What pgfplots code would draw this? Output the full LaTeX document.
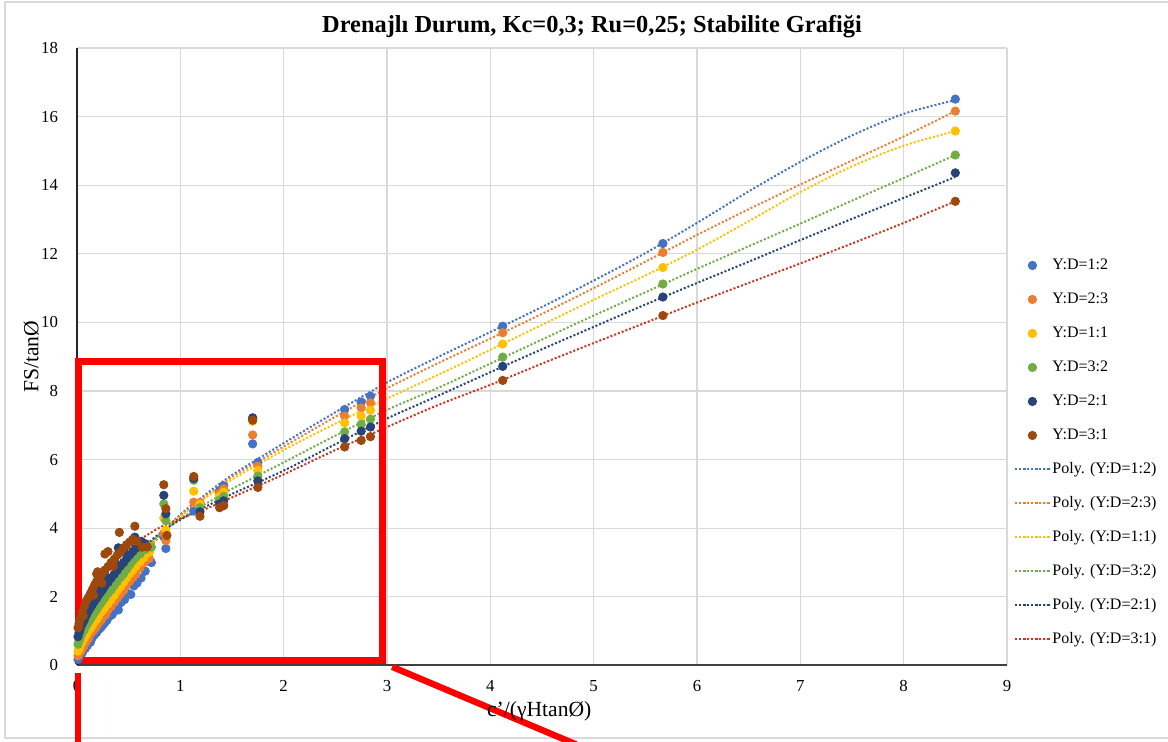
\documentclass[border=0pt]{standalone}
\usepackage{fontspec}
\setmainfont{Liberation Serif}
\usepackage{pgfplots}
\usepackage{pgfplotstable}
\pgfplotsset{compat=1.18}
\definecolor{cA}{HTML}{4472C4}
\definecolor{cB}{HTML}{ED7D31}
\definecolor{cC}{HTML}{FFC000}
\definecolor{cD}{HTML}{70AD47}
\definecolor{cE}{HTML}{264478}
\definecolor{cF}{HTML}{9E480E}
\definecolor{tF}{HTML}{C8361E}

\pgfplotstableread{
x y
0.01 0.18
0.02 0.25
0.03 0.30
0.05 0.36
0.06 0.45
0.08 0.50
0.10 0.58
0.11 0.72
0.13 0.68
0.15 0.82
0.17 0.90
0.19 0.96
0.21 1.05
0.23 1.10
0.25 1.18
0.27 1.25
0.29 1.32
0.31 1.42
0.34 1.48
0.37 1.60
0.40 1.62
0.43 1.85
0.46 1.92
0.49 2.10
0.52 2.07
0.55 2.32
0.58 2.40
0.62 2.55
0.66 2.75
0.72 3.00
0.86 3.41
0.84 3.75
0.12 1.00
0.20 1.30
0.28 1.60
0.36 1.95
0.40 1.75
0.45 2.28
0.53 2.62
0.60 2.95
1.13 4.50
1.19 4.72
1.38 5.10
1.42 5.24
1.70 6.46
1.75 5.92
2.59 7.46
2.75 7.68
2.84 7.85
4.12 9.89
5.67 12.30
8.50 16.51
}\sA
\pgfplotstableread{
x y
0.01 0.28
0.02 0.34
0.04 0.42
0.05 0.50
0.07 0.58
0.09 0.70
0.11 0.78
0.12 0.90
0.14 0.95
0.16 1.02
0.18 1.10
0.20 1.20
0.22 1.28
0.24 1.35
0.26 1.44
0.28 1.50
0.30 1.62
0.33 1.72
0.36 1.84
0.39 1.96
0.42 2.08
0.45 2.18
0.48 2.35
0.51 2.45
0.54 2.56
0.57 2.66
0.61 2.85
0.65 3.00
0.70 3.12
0.86 3.64
0.84 3.85
0.13 1.12
0.21 1.46
0.29 1.80
0.38 2.20
0.47 2.55
0.55 2.90
0.66 3.10
1.13 4.76
1.19 4.75
1.38 5.02
1.42 5.15
1.70 6.72
1.75 5.81
2.59 7.27
2.75 7.51
2.84 7.66
4.12 9.70
5.67 12.04
8.50 16.16
}\sB
\pgfplotstableread{
x y
0.01 0.42
0.02 0.48
0.03 0.58
0.05 0.68
0.07 0.80
0.09 0.90
0.11 1.00
0.13 1.08
0.15 1.18
0.17 1.28
0.19 1.35
0.21 1.45
0.23 1.55
0.25 1.62
0.27 1.70
0.30 1.80
0.33 1.92
0.36 2.05
0.39 2.18
0.42 2.30
0.45 2.42
0.48 2.55
0.51 2.68
0.54 2.78
0.57 2.88
0.61 3.02
0.65 3.15
0.70 3.30
0.86 3.95
0.84 4.30
0.12 1.30
0.20 1.65
0.28 2.00
0.37 2.35
0.46 2.70
0.51 2.85
0.60 3.20
1.13 5.08
1.19 4.70
1.38 4.93
1.42 5.05
1.70 7.12
1.75 5.69
2.59 7.07
2.75 7.27
2.84 7.44
4.12 9.37
5.67 11.60
8.50 15.58
}\sC
\pgfplotstableread{
x y
0.01 0.62
0.02 0.72
0.03 0.80
0.05 0.94
0.07 1.04
0.09 1.16
0.11 1.26
0.13 1.35
0.15 1.45
0.17 1.55
0.19 1.63
0.21 1.73
0.23 1.81
0.25 1.90
0.27 1.98
0.30 2.10
0.33 2.20
0.36 2.33
0.39 2.45
0.42 2.57
0.45 2.67
0.48 2.80
0.51 2.93
0.54 3.05
0.57 3.15
0.61 3.25
0.66 3.38
0.72 3.45
0.86 4.22
0.84 4.71
0.12 1.55
0.20 1.90
0.28 2.25
0.37 2.65
0.46 3.00
0.55 3.35
0.62 3.58
1.13 5.40
1.19 4.60
1.38 4.82
1.42 4.93
1.70 7.20
1.75 5.52
2.59 6.81
2.75 7.03
2.84 7.18
4.12 8.99
5.67 11.12
8.50 14.88
}\sD
\pgfplotstableread{
x y
0.01 0.84
0.02 0.95
0.03 1.05
0.05 1.20
0.07 1.32
0.09 1.46
0.11 1.58
0.13 1.68
0.15 1.78
0.17 1.88
0.19 1.96
0.21 2.06
0.23 2.14
0.25 2.22
0.27 2.32
0.30 2.42
0.33 2.55
0.36 2.66
0.39 2.78
0.42 2.90
0.45 3.00
0.48 3.12
0.51 3.22
0.54 3.32
0.57 3.42
0.61 3.50
0.66 3.55
0.86 4.42
0.84 4.96
0.12 1.85
0.20 2.22
0.28 2.58
0.37 2.98
0.40 3.43
0.46 3.30
0.56 3.74
0.62 3.62
1.13 5.45
1.19 4.48
1.38 4.71
1.42 4.80
1.70 7.22
1.75 5.38
2.59 6.61
2.75 6.83
2.84 6.95
4.12 8.72
5.67 10.74
8.50 14.36
}\sE
\pgfplotstableread{
x y
0.01 1.10
0.02 1.22
0.03 1.35
0.05 1.55
0.07 1.72
0.09 1.88
0.11 1.98
0.13 2.10
0.15 2.22
0.17 2.35
0.19 2.45
0.21 2.55
0.23 2.62
0.25 2.70
0.27 2.78
0.30 2.88
0.33 3.00
0.36 3.10
0.39 3.22
0.42 3.30
0.45 3.42
0.48 3.52
0.51 3.60
0.54 3.68
0.58 3.62
0.63 3.45
0.68 3.46
0.87 3.79
0.86 4.57
0.84 5.27
0.06 1.45
0.16 2.05
0.24 2.40
0.19 2.67
0.20 2.73
0.27 3.25
0.30 3.32
0.35 2.89
0.41 3.88
0.56 4.06
1.13 5.51
1.19 4.35
1.38 4.60
1.42 4.66
1.70 7.15
1.75 5.19
2.59 6.37
2.75 6.56
2.84 6.67
4.12 8.31
5.67 10.20
8.50 13.53
}\sF

\pgfplotstableread{
x y
0 0.15
0.1 0.72
0.2 1.25
0.3 1.75
0.4 2.22
0.5 2.65
0.6 3.05
0.8 3.78
1.0 4.40
1.25 5.00
1.5 5.55
2.0 6.48
2.5 7.38
3.0 8.25
3.5 9.00
4.0 9.72
4.5 10.45
5.0 11.22
5.5 12.02
6.0 12.90
6.5 13.82
7.0 14.68
7.5 15.45
8.0 16.08
8.5 16.48
}\tA
\pgfplotstableread{
x y
0 0.28
0.1 0.82
0.2 1.35
0.3 1.85
0.4 2.30
0.5 2.72
0.6 3.10
0.8 3.78
1.0 4.36
1.25 4.95
1.5 5.50
2.0 6.38
2.5 7.25
3.0 8.08
3.5 8.82
4.0 9.53
4.5 10.25
5.0 11.00
5.5 11.77
6.0 12.55
6.5 13.30
7.0 14.02
7.5 14.72
8.0 15.42
8.5 16.16
}\tB
\pgfplotstableread{
x y
0 0.40
0.1 0.95
0.2 1.48
0.3 1.95
0.4 2.40
0.5 2.80
0.6 3.15
0.8 3.80
1.0 4.35
1.25 4.90
1.5 5.42
2.0 6.28
2.5 7.05
3.0 7.78
3.5 8.48
4.0 9.20
4.5 9.93
5.0 10.66
5.5 11.37
6.0 12.12
6.5 12.95
7.0 13.80
7.5 14.55
8.0 15.15
8.5 15.58
}\tC
\pgfplotstableread{
x y
0 0.60
0.1 1.15
0.2 1.65
0.3 2.10
0.4 2.52
0.5 2.90
0.6 3.25
0.8 3.82
1.0 4.28
1.25 4.72
1.5 5.15
2.0 5.92
2.5 6.70
3.0 7.45
3.5 8.10
4.0 8.80
4.5 9.50
5.0 10.20
5.5 10.88
6.0 11.56
6.5 12.22
7.0 12.88
7.5 13.55
8.0 14.21
8.5 14.88
}\tD
\pgfplotstableread{
x y
0 0.85
0.1 1.35
0.2 1.85
0.3 2.28
0.4 2.68
0.5 3.02
0.6 3.32
0.8 3.85
1.0 4.25
1.25 4.64
1.5 5.00
2.0 5.68
2.5 6.45
3.0 7.20
3.5 7.87
4.0 8.55
4.5 9.22
5.0 9.87
5.5 10.52
6.0 11.15
6.5 11.77
7.0 12.40
7.5 13.02
8.0 13.63
8.5 14.24
}\tE
\pgfplotstableread{
x y
0 1.05
0.1 1.70
0.2 2.25
0.3 2.72
0.4 3.10
0.5 3.40
0.6 3.65
0.8 4.02
1.0 4.28
1.25 4.57
1.5 4.90
2.0 5.57
2.5 6.28
3.0 6.95
3.5 7.60
4.0 8.18
4.5 8.80
5.0 9.40
5.5 9.99
6.0 10.58
6.5 11.15
7.0 11.72
7.5 12.30
8.0 12.90
8.5 13.53
}\tF

\pgfplotsset{
  pts/.style={only marks, mark=*, mark size=2.1pt, color=#1, mark options={fill=#1, draw=#1}},
  tline/.style={no marks, smooth, tension=0.5, color=#1, line width=1pt, dash pattern=on 1pt off 1pt},
}

\begin{document}
\begin{tikzpicture}
\useasboundingbox (-38.5pt,-38.25pt) rectangle (545.5pt,332.75pt);
\draw[black!15, line width=0.8pt] (560pt,331.75pt) -- (-36pt,331.75pt) -- (-36pt,-36.25pt) -- (560pt,-36.25pt);
\begin{axis}[
  scale only axis, width=465pt, height=308.75pt,
  xmin=0, xmax=9, ymin=0, ymax=18,
  xtick={0,1,...,9}, ytick={0,2,...,18},
  grid=major, grid style={draw=black!15, line width=0.6pt},
  axis x line*=bottom, axis y line*=left,
  x axis line style={-, draw=black!75, line width=1pt},
  y axis line style={-, draw=black!85, line width=0.6pt},
  major tick length=0pt,
  tick label style={font=\fontsize{8.4}{10}\selectfont},
  xticklabel style={yshift=-4pt},
  yticklabel style={xshift=-6pt},
  /pgf/number format/assume math mode=true,
  clip=false,
  every axis title shift=0pt,
  title={Drenajlı Durum, Kc=0,3; Ru=0,25; Stabilite Grafiği},
  title style={at={(0.5538,1.034)}, anchor=center, font=\bfseries\fontsize{12.2}{14}\selectfont},
  xlabel={c'/(γHtanØ)},
  xlabel style={at={(axis description cs:0.497,-0.0745)}, anchor=center, font=\fontsize{10.8}{12}\selectfont},
  ylabel={FS/tanØ},
  ylabel style={at={(axis description cs:-0.049,0.5)}, anchor=center, font=\fontsize{10.8}{12}\selectfont},
  legend style={at={(1.001,0.345)}, anchor=west, draw=none, fill=none,
    font=\fontsize{8}{9}\selectfont, row sep=7pt,
    nodes={inner sep=1pt, text height=6pt, text depth=2pt, anchor=west}},
  legend cell align=left,
]
\addplot[pts=cA] table {\sA};
\addplot[pts=cB] table {\sB};
\addplot[pts=cC] table {\sC};
\addplot[pts=cD] table {\sD};
\addplot[pts=cE] table {\sE};
\addplot[pts=cF] table {\sF};
\addplot[tline=cA] table {\tA};
\addplot[tline=cB] table {\tB};
\addplot[tline=cC] table {\tC};
\addplot[tline=cD] table {\tD};
\addplot[tline=cE] table {\tE};
\addplot[tline=tF] table {\tF};
\legend{Y:D=1:2, Y:D=2:3, Y:D=1:1, Y:D=3:2, Y:D=2:1, Y:D=3:1,
  Poly. (Y:D=1:2), Poly. (Y:D=2:3), Poly. (Y:D=1:1), Poly. (Y:D=3:2), Poly. (Y:D=2:1), Poly. (Y:D=3:1)}
\draw[red, line width=3.5pt] (axis cs:0.01,0.16) rectangle (axis cs:2.96,8.87);
\draw[red, line width=3.2pt] (axis cs:0.01,-0.22) -- (axis cs:0.01,-2.4);
\draw[red, line width=3.2pt] (axis cs:3.05,-0.04) -- (axis cs:4.83,-2.3);
\end{axis}
\end{tikzpicture}
\end{document}
